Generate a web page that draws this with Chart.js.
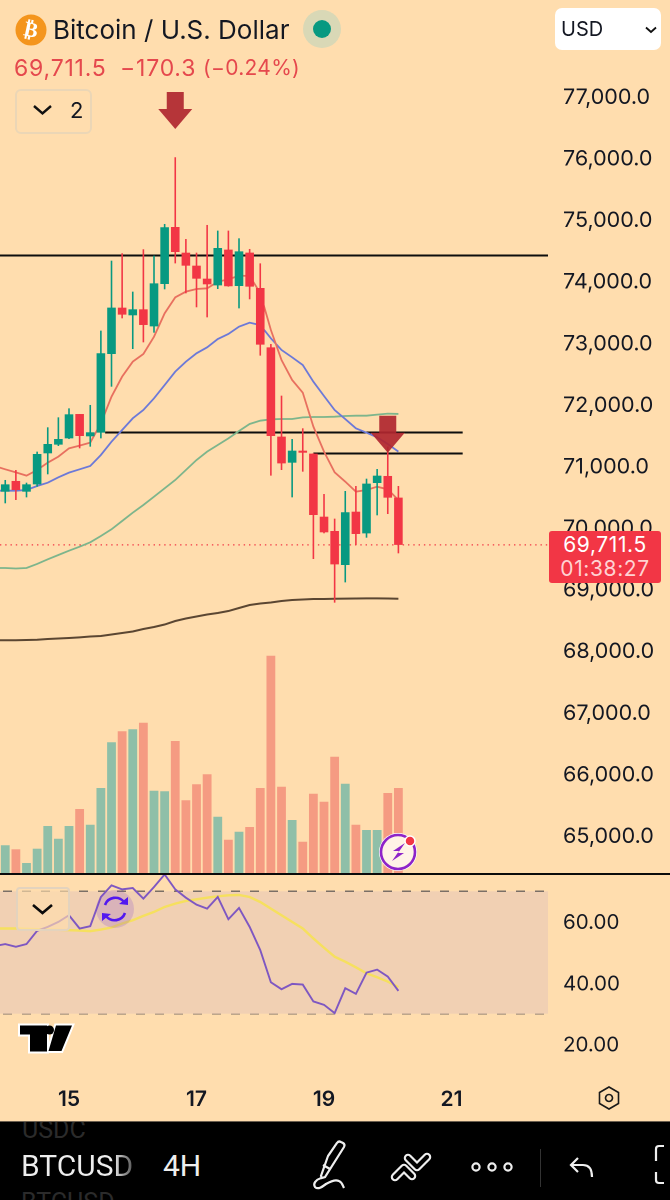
<!DOCTYPE html>
<html><head><meta charset="utf-8">
<script src="https://cdn.jsdelivr.net/npm/chart.js@4"></script>
<style>
html,body{margin:0;padding:0;background:#FFDDAE;width:670px;height:1200px;overflow:hidden;font-family:Inter,"Noto Sans",sans-serif;color:#131722}
#wrap{position:relative;width:670px;height:1200px;overflow:hidden}
canvas{position:absolute;left:0;top:0}
.a{position:absolute;white-space:nowrap}
svg.a{overflow:visible}
#bar{position:absolute;left:0;top:1121px;width:670px;height:79px;background:#000;overflow:hidden;border-top:1px solid #6b5f4f;box-sizing:border-box}
#bar .t{position:absolute;font-family:Roboto,sans-serif;white-space:nowrap}
.q{position:absolute;top:54px;font-size:23px;letter-spacing:.8px;line-height:28px;color:#E5484D;white-space:nowrap}
</style></head><body><div id="wrap">
<canvas id="c" width="670" height="1120"></canvas>

<div class="a" style="left:0;top:873px;width:670px;height:2px;background:#0b0b0b"></div>

<svg class="a" style="left:0;top:0" width="670" height="140">
  <circle cx="31" cy="30" r="15.5" fill="#F4951D"/>
  <circle cx="322" cy="29" r="19" fill="#D9D8B6"/>
  <circle cx="322" cy="29" r="9" fill="#089981"/>
  <rect x="16" y="90" width="75" height="43" rx="5" fill="none" stroke="#EBD6B6" stroke-width="2"/>
  <path d="M34 106l8.5 7.5 8.5-7.5" fill="none" stroke="#111" stroke-width="2.4"/>
</svg>
<div class="a" style="left:31px;top:30px;transform:translate(-50%,-50%) rotate(12deg);color:#fff;font:700 21px 'DejaVu Sans'">₿</div>
<div class="a" id="title" style="left:53px;top:13px;font-size:26px;line-height:34px;color:#131722">Bitcoin / U.S. Dollar</div>
<div class="q" id="qLast" style="left:14px"></div>
<div class="q" style="left:120px">−170.3</div>
<div class="q" style="left:203px;font-size:21px;letter-spacing:.3px">(−0.24%)</div>
<div class="a" style="left:70px;top:96px;font-size:22px;line-height:28px;color:#131722">2</div>

<div class="a" style="left:555px;top:8px;width:106px;height:42px;background:#fff;border-radius:7px"></div>
<div class="a" style="left:561px;top:15px;font-size:20px;line-height:28px;color:#131722">USD</div>
<svg class="a" style="left:645px;top:26px" width="12" height="8"><path d="M1 1.5l5 4.5 5-4.5" fill="none" stroke="#111" stroke-width="1.8"/></svg>

<div class="a" id="tag" style="left:549px;top:532px;width:112px;height:52px;background:#F23645;border-radius:3px;color:#fff;text-align:center;font-size:21px;letter-spacing:.6px;line-height:24px;padding-top:2px;box-sizing:border-box"><div id="tagPrice"></div><div style="color:#FFD2D2">01:38:27</div></div>

<svg class="a" style="left:0;top:0" width="670" height="1120">
  <circle cx="398" cy="852" r="19" fill="#fff"/>
  <circle cx="398" cy="852" r="17" fill="#FFF3E6" stroke="#8E24C9" stroke-width="2.6"/>
  <path d="M405 843l-12 8h6l-7 10 12-8h-6z" fill="#8E24C9"/>
  <circle cx="410" cy="841" r="5" fill="#F23645" stroke="#fff" stroke-width="1.5"/>

  <rect x="17" y="888" width="52" height="42" rx="3" fill="#FFDDAE" fill-opacity=".65" stroke="#E3D3BE" stroke-width="2"/>
  <path d="M33 905l9.5 8 9.5-8" fill="none" stroke="#0b0b0b" stroke-width="2.6"/>
  <circle cx="115" cy="909" r="19" fill="#7B3FD0" fill-opacity=".2"/>
  <path d="M105 905a11 11 0 0 1 19-3M125 913a11 11 0 0 1-19 3" fill="none" stroke="#5218F0" stroke-width="2.6"/>
  <path d="M119 904l9 1 0-8zM111 914l-9-1 0 8z" fill="#5218F0"/>

  <path d="M20 1025.5h27v26H30v-17h-10zM56 1025.5h16l-10.500 25.500H48.500z" fill="#000" stroke="#fff" stroke-width="4" paint-order="stroke"/>
  <circle cx="49.500" cy="1030" r="4.500" fill="#000"/>

  <path d="M609 1087l9.500 5.500v11l-9.500 5.500-9.500-5.500v-11zM609 1094.500a3.500 3.500 0 1 0 .01 0" fill="none" stroke="#1a1a1a" stroke-width="1.600"/>
</svg>

<div id="bar">
  <div class="t" style="left:22px;top:-7px;font-size:25px;color:#2b2b2b">USDC</div>
  <div class="t" style="left:21px;top:26px;font-size:30px;line-height:36px;background:linear-gradient(90deg,#eee 82%,#555 100%);-webkit-background-clip:text;background-clip:text;color:transparent">BTCUSD</div>
  <div class="t" style="left:21px;top:66px;font-size:25px;color:#2b2b2b">BTCUSD</div>
  <div class="t" style="left:163px;top:26px;font-size:30px;line-height:36px;color:#eee">4H</div>
  <svg style="position:absolute;left:0;top:0" width="670" height="79" fill="none" stroke="#eee" stroke-width="2.200">
    <g transform="translate(8,0)">
    <path d="M320 34l-7 20 1 2 3-1 19-30a3 3 0 0 0-1-4l-2-1a3 3 0 0 0-4 1zM315 43l7 4M313 56c-6 2-8 6-6 9 3 3 7 0 11-3 5-3 9-5 13-3 3 1 4 5 5 7"/>
    </g>
    <g stroke-linecap="round" stroke-linejoin="round">
      <path d="M395 55l9-9 8 8M408 36l9 9 10-10" stroke-width="8.500"/>
      <path d="M395 55l9-9 8 8M408 36l9 9 10-10" stroke="#000" stroke-width="4.200"/>
    </g>
    <circle cx="476" cy="45" r="3.600"/><circle cx="492" cy="45" r="3.600"/><circle cx="508" cy="45" r="3.600"/>
    <path d="M578 36l-7 7 7 7M572 43h11c6 0 9 4 9 12"/>
    <path d="M664 24h-5c-2 0-3 1-3 3v12M656 50v8c0 2 1 3 3 3h5"/>
  </svg>
  <div style="position:absolute;left:540px;top:27px;width:1px;height:38px;background:#333"></div>
</div>
</div>
<script>
// Bar index i = 4-hour candle; index 0 is the 14th 00:00, 6 bars per day.
const barIndex = [0,1,2,3,4,5,6,7,8,9,10,11,12,13,14,15,16,17,18,19,20,21,22,23,24,25,26,27,28,29,30,31,32,33,34,35,36,37];
const openPrices = [70575,70749,70575,70694,71198,71339,71441,71836,71474,71533,72811,73563,73439,73536,73260,73948,74873,74456,74245,74034,73926,74505,73915,74456,73883,72919,71468,71046,71241,71192,70169,69936,69384,70250,69898,70716,70830,70478];
const highPrices = [70765,70927,70721,71225,71620,71782,71928,71836,71983,73190,74326,74446,73823,74511,74408,74922,76005,74678,74456,74906,74814,74814,74689,74516,74283,72973,72134,71430,71604,71198,70537,70137,70586,70667,70786,70943,71306,70667];
const lowPrices  = [70386,70440,70483,70656,70857,71317,71430,71279,71306,71441,72280,73390,72892,73000,73157,73861,74283,73796,73569,73406,73866,73904,73552,73699,72784,70835,70927,70483,70900,69482,69899,68773,69103,69709,69828,70191,70213,69574];
const closePrices= [70694,70602,70694,71187,71349,71430,71831,71479,71539,72822,73563,73450,73536,73282,73958,74868,74467,74245,74034,73942,74532,73910,74478,73904,72962,71479,71035,71241,71208,70196,69915,69395,70240,69888,70705,70835,70478,69711.5];
const volumes = [27.7,23.7,10,24.3,47,34.3,47,64,48.3,85,130.7,141.7,143.7,150.3,82.3,81.7,132,72.7,88.7,98.7,56.3,33.3,41.3,46,85,217.3,86.3,53,31.3,79.3,71.3,116.3,89.3,48.3,43,43,80,85];

// Moving averages and RSI start one bar before index 0 (bar -1)
const maFast = [70990,70938,70889,70835,70927,71046,71144,71279,71322,71371,71685,72118,72443,72686,72811,73092,73471,73731,73823,73866,73877,73985,74023,74083,74077,73800,73200,72713,72389,72183,71631,71225,70889,70738,70575,70602,70656,70613,70440];
const maMid = [70591,70591,70591,70602,70667,70721,70808,70884,70938,70992,71171,71387,71577,71766,71901,72091,72307,72524,72686,72822,72919,73054,73136,73255,73320,73280,73065,72876,72757,72632,72361,72129,71901,71755,71604,71533,71458,71349,71225];
const maSlow = [69336,69336,69328,69336,69401,69477,69547,69617,69682,69753,69855,69964,70099,70234,70359,70494,70630,70765,70927,71089,71225,71333,71441,71560,71674,71728,71750,71755,71755,71782,71788,71788,71793,71804,71809,71809,71826,71842,71837];
const maLong = [68162,68162,68162,68167,68170,68183,68191,68199,68210,68223,68232,68256,68280,68305,68345,68378,68418,68475,68516,68548,68581,68605,68637,68686,68735,68759,68776,68800,68816,68824,68832,68832,68837,68839,68841,68842,68842,68841,68837];
const rsiValues = [52.1,52.75,51.88,52.75,57.08,58.38,60,62.18,57.84,58.6,68.14,71.93,70.63,71.06,67.6,71.39,75.51,70.63,67.92,65.65,64.34,68.14,60.87,64.56,58.38,50.79,40.28,38,39.74,39.52,34,32.91,30.2,38.33,36.48,43.42,44.4,42.12,37.46];
const rsiSmooth = [57.84,57.84,57.84,57.73,57.62,57.51,57.41,57.3,57.19,56.97,57.51,58.17,59.47,60.55,61.96,63.26,64.89,65.97,66.84,67.38,67.92,68.35,68.68,68.79,68.14,66.51,64.34,62.18,60.01,57.84,54.59,51.55,48.63,47,45.16,43.21,41.91,40.5,38.65];

// Horizontal levels drawn on the chart: [price, from bar, to bar]
const levelPrices = [74410, 71536, 71195];
const levelFrom = [-2, 9.4, 29];
const levelTo = [53, 43.05, 43.05];
const lastPrice = 69711.5;
const arrowBars = [16, 36];
const arrowPrices = [76465, 71208];

const priceTicks = [65000,66000,67000,68000,69000,70000,71000,72000,73000,74000,75000,76000,77000];
const rsiTicks = [20,40,60];
const rsiBands = [70,50,30];
const dayTickBars = [6,18,30,42];
const dayTickLabels = ['15','17','19','21'];

const BULL='#089981', BEAR='#F23645', BULLV='#8FBFA8', BEARV='#F59B82';
const isUp = barIndex.map(i=>closePrices[i]>=openPrices[i]);
const X0=-2, X1=53;
const FONT='Inter, "Noto Sans", sans-serif';
function lineDs(vals,color,axis,order,width){
  return {type:'line',data:vals.map((v,k)=>({x:k-1,y:v})),yAxisID:axis,borderColor:color,borderWidth:width||1.8,pointRadius:0,tension:0,order:order,fill:false};
}
function hline(y,a,b,color,axis,order,width,dash,extra){
  return Object.assign({type:'line',data:[{x:a,y:y},{x:b,y:y}],yAxisID:axis,borderColor:color,borderWidth:width,borderDash:dash||[],pointRadius:0,order:order,fill:false},extra||{});
}
const arrowPlugin={id:'arrows',afterDatasetsDraw(chart){
  const c=chart.ctx,xs=chart.scales.x,ys=chart.scales.y;
  arrowBars.forEach((b,k)=>{
    const x=xs.getPixelForValue(b), y=ys.getPixelForValue(arrowPrices[k]);
    c.save();c.globalAlpha=.92;c.fillStyle='#B0262F';c.beginPath();
    c.moveTo(x,y);c.lineTo(x+17,y-20);c.lineTo(x+8.5,y-20);c.lineTo(x+8.5,y-37);c.lineTo(x-8.5,y-37);c.lineTo(x-8.5,y-20);c.lineTo(x-17,y-20);c.closePath();c.fill();c.restore();
  });
}};
const bar=(extra)=>Object.assign({type:'bar',grouped:false,barPercentage:1,categoryPercentage:1,borderWidth:0,inflateAmount:0},extra);
const datasets=[
  bar({label:'Bodies',data:barIndex.map(i=>({x:i,y:[openPrices[i],closePrices[i]]})),backgroundColor:isUp.map(u=>u?BULL:BEAR),maxBarThickness:8.6,order:1,yAxisID:'y'}),
  bar({label:'Wicks',data:barIndex.map(i=>({x:i,y:[lowPrices[i],highPrices[i]]})),backgroundColor:isUp.map(u=>u?BULL:BEAR),maxBarThickness:1.6,order:2,yAxisID:'y'}),
  bar({label:'Volume',data:barIndex.map(i=>({x:i,y:volumes[i]})),backgroundColor:isUp.map(u=>u?BULLV:BEARV),maxBarThickness:8.8,order:9,yAxisID:'vol'}),
  lineDs(maFast,'#E8705F','y',3),
  lineDs(maMid,'#6C79D8','y',3),
  lineDs(maSlow,'#7DB58C','y',3),
  lineDs(maLong,'#5B4632','y',3,2),
  hline(lastPrice,X0,X1,BEAR,'y',6,1.3,[1.4,3.9]),
  ...levelPrices.map((p,k)=>hline(p,levelFrom[k],levelTo[k],'#0d0d0d','y',5,2)),
  lineDs(rsiValues,'#7E57C2','rsi',3,1.9),
  lineDs(rsiSmooth,'#F6E05E','rsi',4,2.4),
  hline(rsiBands[0],X0,X1,'#7A6F66','rsi',7,1.5,[9,10],{fill:{value:rsiBands[2]},backgroundColor:'#F1D0B3'}),
  hline(rsiBands[1],X0,X1,'#AE9F90','rsi',7,1.5,[9,10]),
  hline(rsiBands[2],X0,X1,'#7A6F66','rsi',7,1.5,[9,10]),
];
const noPad=s=>{s.paddingTop=0;s.paddingBottom=0;s.paddingLeft=0;s.paddingRight=0};
const fixW=s=>{s.width=122;noPad(s)};
const chart=new Chart(document.getElementById('c').getContext('2d'),{
  type:'bar',
  data:{datasets},
  plugins:[arrowPlugin],
  options:{
    responsive:false,animation:false,devicePixelRatio:2,
    layout:{padding:0},
    plugins:{legend:{display:false},tooltip:{enabled:false}},
    scales:{
      x:{type:'linear',offset:false,min:-0.494,max:51.08,grid:{display:false,drawTicks:false,offset:false},border:{display:false},
        afterBuildTicks:s=>{s.ticks=dayTickBars.map(v=>({value:v}))},
        afterFit:s=>{s.height=45;noPad(s)},
        ticks:{padding:12,maxRotation:0,autoSkip:false,color:'#131722',font:{family:FONT,size:21,weight:'600'},
          callback:v=>dayTickLabels[dayTickBars.indexOf(v)]}},
      y:{type:'linear',position:'right',stack:'panes',stackWeight:873,min:64383,max:78559,weight:1,
        grid:{display:false,drawTicks:false},border:{display:false},afterFit:fixW,
        afterBuildTicks:s=>{s.ticks=priceTicks.map(v=>({value:v}))},
        ticks:{padding:15,labelOffset:1.5,color:'#131722',autoSkip:false,font:{family:FONT,size:21.5},
          callback:v=>v.toLocaleString('en-US',{minimumFractionDigits:1})}},
      rsi:{type:'linear',position:'right',stack:'panes',stackWeight:202,min:9.97,max:75.98,weight:1,
        grid:{display:false,drawTicks:false},border:{display:false},afterFit:fixW,
        afterBuildTicks:s=>{s.ticks=rsiTicks.map(v=>({value:v}))},
        ticks:{padding:15,labelOffset:1,color:'#131722',autoSkip:false,font:{family:FONT,size:20.5},
          callback:v=>v.toFixed(2)}},
      vol:{type:'linear',display:false,position:'left',min:-202,max:873}
    }
  }
});
const priceText=lastPrice.toLocaleString('en-US',{minimumFractionDigits:1});
document.getElementById('qLast').textContent=priceText;
document.getElementById('tagPrice').textContent=priceText;
document.getElementById('tag').style.top=(chart.scales.y.getPixelForValue(lastPrice)-14)+'px';
</script>
</body></html>
